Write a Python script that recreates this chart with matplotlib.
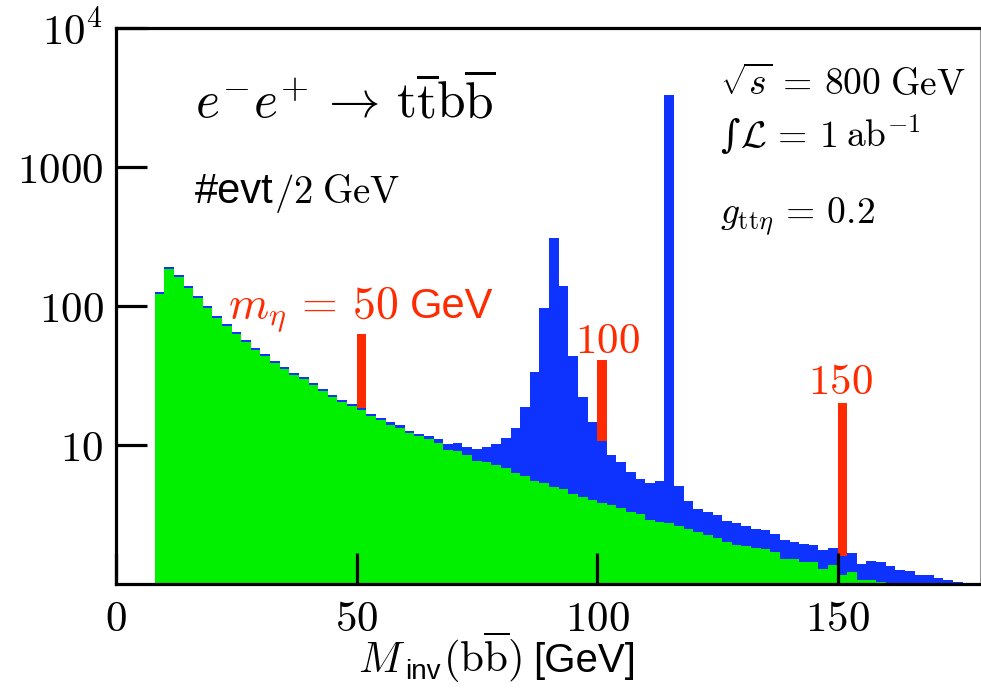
import matplotlib
matplotlib.use("Agg")
import matplotlib.pyplot as plt
import numpy as np
from matplotlib.ticker import FixedLocator, NullLocator

plt.rcParams['mathtext.fontset'] = 'cm'
plt.rcParams['font.family'] = ['DejaVu Serif']

# ---- data (2 GeV bins) ----
bin_width = 2
green_start = 8
green_values = [121, 184, 160, 135, 113, 96, 82, 71.5, 62.5, 54.7,
                48.2, 43.7, 38.8, 35.2, 31.7, 29.6, 26.9, 24.4, 22.1, 20.2,
                19.0, 17.7, 16.2, 15.1, 14.0, 13.3, 12.1, 11.5, 11.0, 10.3,
                9.2, 9.1, 8.4, 7.7, 7.6, 7.2, 6.8, 6.3, 6.0, 5.5,
                5.3, 5.0, 4.8, 4.45, 4.2, 4.0, 3.8, 3.7, 3.5, 3.3,
                3.2, 2.9, 2.8, 2.75, 2.6, 2.5, 2.37, 2.26, 2.14, 2.02,
                1.92, 1.89, 1.81, 1.79, 1.69, 1.51, 1.52, 1.43, 1.43, 1.29,
                1.37, 1.16, 1.21, 1.06, 1.06, 1.04]
blue_start = 8
blue_values = [125, 191, 166, 140, 117, 99, 85, 74, 64.6, 56.6,
               49.9, 45.2, 40.2, 36.4, 32.8, 30.6, 27.8, 25.2, 22.9, 20.9,
               19.7, 18.3, 16.8, 15.7, 14.5, 13.8, 12.6, 12.0, 11.5, 11.0,
               10.1, 10.3, 9.7, 9.3, 9.7, 10.1, 11.2, 13.2, 18.6, 33.7,
               97, 306, 138, 43.7, 22.1, 14.5, 10.7, 8.5, 7.5, 6.4,
               5.7, 5.3, 5.5, 3283, 5.1, 3.95, 3.47, 3.31, 3.13, 2.85,
               2.75, 2.6, 2.49, 2.46, 2.29, 2.06, 1.99, 1.94, 1.90, 1.77,
               1.82, 1.60, 1.66, 1.40, 1.46, 1.44, 1.34, 1.27, 1.24, 1.17,
               1.16, 1.11, 1.06, 1.04, 1.02]
signal_mass = [50, 100, 150]
signal_bottom = [18.3, 10.7, 1.60]
signal_top = [63, 40.6, 19.9]

xticks = [0, 50, 100, 150]
xtick_labels = [r'$0$', r'$50$', r'$100$', r'$150$']
yticks = [10, 100, 1000, 10000]
ytick_labels = [r'$10$', r'$100$', r'$1000$', r'$10^4$']

BLUE = '#0F33FF'
GREEN = '#00F000'
RED = '#FF2A00'
SANS = 'Liberation Sans'

W, H = 981, 693
fig = plt.figure(figsize=(W / 100, H / 100), dpi=100)
x0, x1, y0, y1 = 116.2, 979.5, 27.7, 584.0
ax = fig.add_axes([x0 / W, 1 - y1 / H, (x1 - x0) / W, (y1 - y0) / H])

blue_edges = blue_start + bin_width * np.arange(len(blue_values) + 1)
green_edges = green_start + bin_width * np.arange(len(green_values) + 1)
ax.stairs(blue_values, blue_edges, fill=True, color=BLUE, baseline=1e-3, lw=0)
ax.stairs(green_values, green_edges, fill=True, color=GREEN, baseline=1e-3, lw=0)
ax.bar(signal_mass, np.array(signal_top) - np.array(signal_bottom),
       bottom=signal_bottom, width=bin_width, align='edge', color=RED, lw=0)

ax.set_yscale('log')
ax.set_xlim(0, 179.5)
ax.set_ylim(1, 1e4)
ax.xaxis.set_major_locator(FixedLocator(xticks))
ax.set_xticklabels(xtick_labels)
ax.yaxis.set_major_locator(FixedLocator(yticks))
ax.yaxis.set_minor_locator(NullLocator())
ax.xaxis.set_minor_locator(NullLocator())
ax.set_yticklabels(ytick_labels)
ax.tick_params(axis='both', which='major', direction='in', length=22, width=2.3,
               labelsize=31, color='black')
ax.tick_params(axis='y', pad=9)
ax.tick_params(axis='x', pad=10)
for side in ['left', 'bottom', 'top']:
    ax.spines[side].set_linewidth(2.3)
ax.spines['right'].set_linewidth(0.8)
ax.spines['right'].set_color('#999999')

renderer = fig.canvas.get_renderer()


def pieces(x, y, parts, color='black', center=False):
    """Draw consecutive text parts starting at pixel (x, baseline y).
    parts: (text, size, family, baseline shift px, gap px after)."""
    texts = []
    cx = x
    for s, size, fam, dy, gap in parts:
        kw = dict(fontsize=size, color=color, ha='left', va='baseline')
        if fam is not None:
            kw['family'] = fam
        t = fig.text(cx / W, 1 - (y + dy) / H, s, **kw)
        bb = t.get_window_extent(renderer)
        cx += bb.width + gap
        texts.append(t)
    if center:
        shift = (cx - x) / 2
        for t in texts:
            px, py = t.get_position()
            t.set_position((px - shift / W, py))
    return texts


pieces(195, 118, [(r'$e^{-}e^{+}\,\rightarrow\,\mathrm{t}\overline{\mathrm{t}}\mathrm{b}\overline{\mathrm{b}}$', 37, None, 0, 0)])
pieces(195, 203, [('#evt', 30, SANS, 0, 0), (r'$/2$', 28, None, 0, 10), (r'$\mathrm{GeV}$', 28, None, 0, 0)])
pieces(228, 318, [(r'$m_{\eta}\,=\,50$', 33, None, 0, 12), ('GeV', 30, SANS, 0, 0)], color=RED)
pieces(575, 353, [(r'$100$', 31, None, 0, 0)], color=RED)
pieces(808, 394, [(r'$150$', 31, None, 0, 0)], color=RED)
pieces(720, 95, [(r'$\sqrt{s}\,=\,800$', 27, None, 0, 9), (r'$\mathrm{GeV}$', 27, None, 0, 0)])
pieces(720, 147, [('\u222b', 27, 'DejaVu Serif', 0, 1),
                  (r'$\mathcal{L}\,=\,1$', 27, None, 0, 9), (r'$\mathrm{ab}^{-1}$', 27, None, 0, 0)])
pieces(720, 223, [(r'$g_{\mathrm{tt}\eta}\,=\,0.2$', 27, None, 0, 0)])
pieces(497, 672, [(r'$M$', 31, None, 0, 0), ('inv', 20, SANS, 7, 2),
                  (r'$(\mathrm{b}\overline{\mathrm{b}})$', 31, None, 0, 11),
                  ('[GeV]', 29, SANS, 0, 0)], center=True)

fig.savefig('out.png', dpi=100)
